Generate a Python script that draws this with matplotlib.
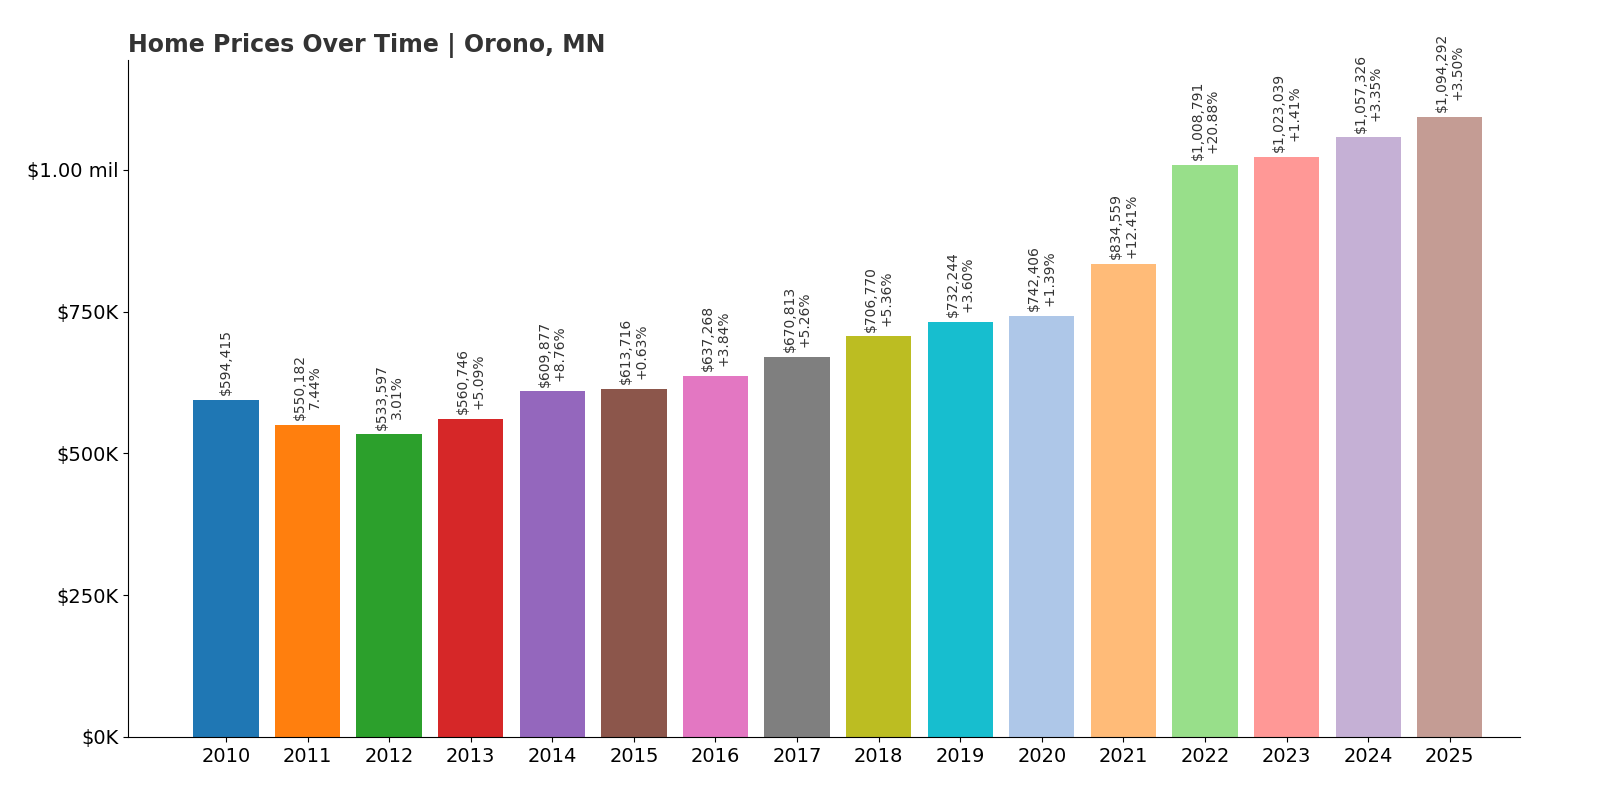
import matplotlib.pyplot as plt
import matplotlib.ticker as mticker

years = [str(y) for y in range(2010, 2026)]
prices = [594415, 550182, 533597, 560746, 609877, 613716, 637268, 670813,
          706770, 732244, 742406, 834559, 1008791, 1023039, 1057326, 1094292]
changes = ["", "7.44%", "3.01%", "+5.09%", "+8.76%", "+0.63%", "+3.84%", "+5.26%",
           "+5.36%", "+3.60%", "+1.39%", "+12.41%", "+20.88%", "+1.41%", "+3.35%", "+3.50%"]
colors = ["#1f77b4", "#ff7f0e", "#2ca02c", "#d62728", "#9467bd", "#8c564b",
          "#e377c2", "#7f7f7f", "#bcbd22", "#17becf", "#aec7e8", "#ffbb78",
          "#98df8a", "#ff9896", "#c5b0d5", "#c49c94"]

fig = plt.figure(figsize=(16, 8), dpi=100)
ax = fig.add_axes([0.08, 0.079, 0.87, 0.846])
x = range(len(years))
ax.bar(x, prices, width=0.8, color=colors)

for i, (p, c) in enumerate(zip(prices, changes)):
    label = f"${p:,}" + (f"\n{c}" if c else "")
    ax.text(i, p + 8000, label, rotation=90, ha="center", va="bottom",
            fontsize=10, color="#333333", linespacing=1.1)

ax.set_xticks(list(x))
ax.set_xticklabels(years, fontsize=14)
ax.set_yticks([0, 250000, 500000, 750000, 1000000])
ax.yaxis.set_major_formatter(mticker.FuncFormatter(
    lambda v, _: "$1.00 mil" if v >= 1e6 else f"${v/1000:.0f}K"))
ax.tick_params(axis="y", labelsize=14)
ax.set_xlim(-1.2, 15.86)
ax.set_ylim(0, 1194000)
ax.spines["top"].set_visible(False)
ax.spines["right"].set_visible(False)
ax.set_title("Home Prices Over Time | Orono, MN", loc="left", fontsize=17,
             fontweight="bold", color="#333333")

fig.savefig("out.png")
